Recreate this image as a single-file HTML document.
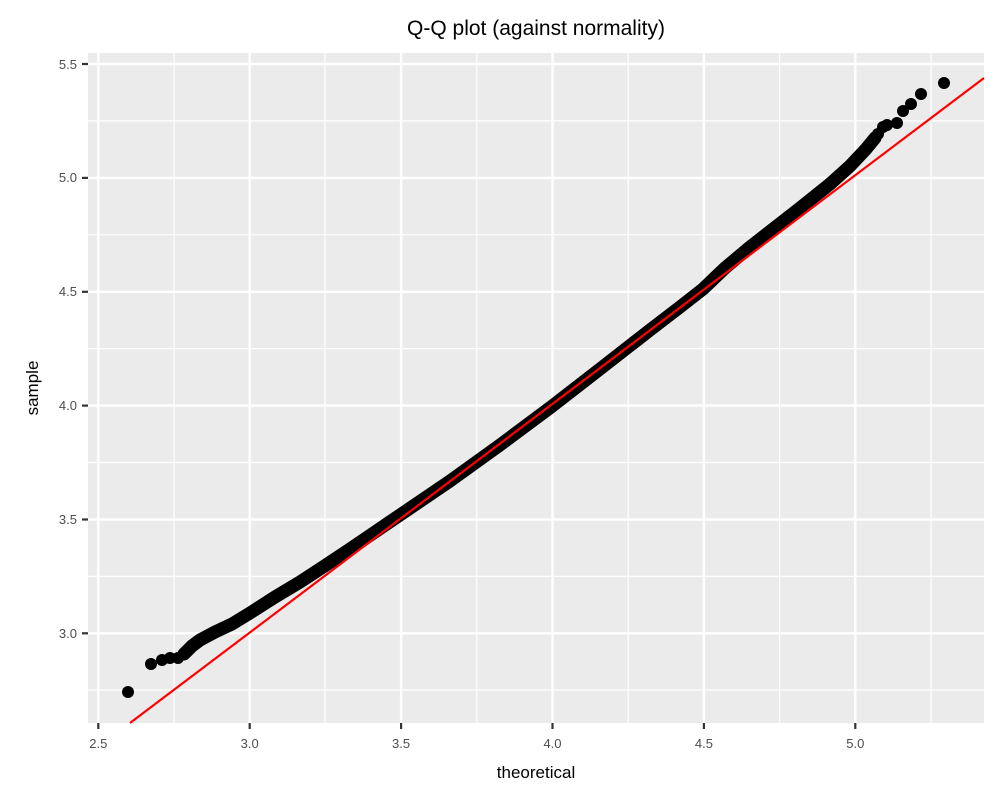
<!DOCTYPE html>
<html><head><meta charset="utf-8"><style>
body{margin:0;background:#fff;}
svg text{font-family:"Liberation Sans",sans-serif;}
</style></head><body>
<svg width="1000" height="800" xmlns="http://www.w3.org/2000/svg">
<rect width="1000" height="800" fill="#fff"/>
<rect x="88" y="53" width="896" height="670" fill="#ebebeb"/>
<g stroke="#fff" stroke-width="1.2">
<line x1="88" x2="984" y1="690" y2="690"/><line x1="88" x2="984" y1="576.4" y2="576.4"/>
<line x1="88" x2="984" y1="462.5" y2="462.5"/><line x1="88" x2="984" y1="348.6" y2="348.6"/>
<line x1="88" x2="984" y1="234.8" y2="234.8"/><line x1="88" x2="984" y1="120.9" y2="120.9"/>
<line y1="53" y2="723" x1="174" x2="174"/><line y1="53" y2="723" x1="325" x2="325"/>
<line y1="53" y2="723" x1="476.8" x2="476.8"/><line y1="53" y2="723" x1="628.2" x2="628.2"/>
<line y1="53" y2="723" x1="779.6" x2="779.6"/><line y1="53" y2="723" x1="931" x2="931"/>
</g>
<g stroke="#fff" stroke-width="2.4">
<line x1="88" x2="984" y1="633.3" y2="633.3"/><line x1="88" x2="984" y1="519.5" y2="519.5"/>
<line x1="88" x2="984" y1="405.6" y2="405.6"/><line x1="88" x2="984" y1="291.8" y2="291.8"/>
<line x1="88" x2="984" y1="177.9" y2="177.9"/><line x1="88" x2="984" y1="64" y2="64"/>
<line y1="53" y2="723" x1="98.3" x2="98.3"/><line y1="53" y2="723" x1="249.7" x2="249.7"/>
<line y1="53" y2="723" x1="401.1" x2="401.1"/><line y1="53" y2="723" x1="552.5" x2="552.5"/>
<line y1="53" y2="723" x1="703.9" x2="703.9"/><line y1="53" y2="723" x1="855.3" x2="855.3"/>
</g>
<polyline fill="none" stroke="#000" stroke-width="13" stroke-linecap="round" stroke-linejoin="round"
points="184,654 192,646 200,640 215,632 232,624 250,613 275,597 300,582 323,567 350,549 400,515 450,481 500,445 551,407 600,369 650,330 680,307 703,289 725,268 750,247 800,208 830,184 850,166 866,149 875,138"/>
<g fill="#000">
<circle cx="128" cy="692" r="6"/><circle cx="151" cy="664" r="6"/><circle cx="162" cy="660" r="6"/>
<circle cx="170" cy="658" r="6"/><circle cx="178" cy="658" r="6"/>
<circle cx="944" cy="83" r="6"/><circle cx="921" cy="94" r="6"/><circle cx="911" cy="104" r="6"/>
<circle cx="903" cy="111" r="6"/><circle cx="897" cy="123" r="6"/><circle cx="887" cy="125" r="6"/>
<circle cx="883" cy="127" r="6"/><circle cx="878" cy="134" r="6"/>
</g>
<line x1="130" y1="723" x2="984" y2="78" stroke="#f00" stroke-width="2.2"/>
<g stroke="#333" stroke-width="2.2">
<line x1="82" x2="88" y1="633.3" y2="633.3"/><line x1="82" x2="88" y1="519.5" y2="519.5"/>
<line x1="82" x2="88" y1="405.6" y2="405.6"/><line x1="82" x2="88" y1="291.8" y2="291.8"/>
<line x1="82" x2="88" y1="177.9" y2="177.9"/><line x1="82" x2="88" y1="64" y2="64"/>
<line y1="723" y2="729" x1="98.3" x2="98.3"/><line y1="723" y2="729" x1="249.7" x2="249.7"/>
<line y1="723" y2="729" x1="401.1" x2="401.1"/><line y1="723" y2="729" x1="552.5" x2="552.5"/>
<line y1="723" y2="729" x1="703.9" x2="703.9"/><line y1="723" y2="729" x1="855.3" x2="855.3"/>
</g>
<g fill="#4d4d4d" font-size="13" text-anchor="end">
<text x="77" y="638">3.0</text><text x="77" y="524">3.5</text><text x="77" y="410">4.0</text>
<text x="77" y="296">4.5</text><text x="77" y="182">5.0</text><text x="77" y="69">5.5</text>
</g>
<g fill="#4d4d4d" font-size="13" text-anchor="middle">
<text x="98.3" y="748">2.5</text><text x="249.7" y="748">3.0</text><text x="401.1" y="748">3.5</text>
<text x="552.5" y="748">4.0</text><text x="703.9" y="748">4.5</text><text x="855.3" y="748">5.0</text>
</g>
<text x="536" y="778" font-size="17" text-anchor="middle" fill="#000">theoretical</text>
<text transform="translate(38,388) rotate(-90)" font-size="17" text-anchor="middle" fill="#000">sample</text>
<text x="536" y="35" font-size="21" text-anchor="middle" fill="#000">Q-Q plot (against normality)</text>
</svg>
</body></html>
